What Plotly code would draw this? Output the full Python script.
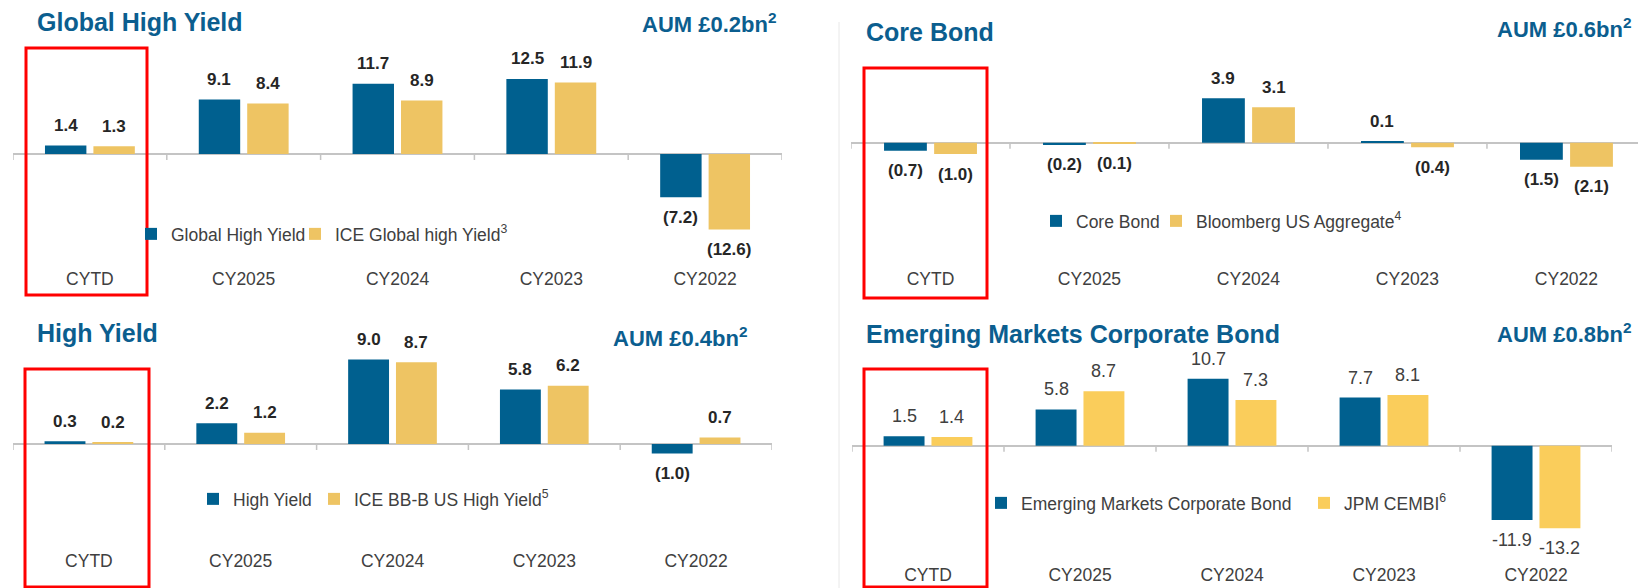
import plotly.graph_objects as go

categories = ["CYTD", "CY2025", "CY2024", "CY2023", "CY2022"]

ghy_fund = [1.4, 9.1, 11.7, 12.5, -7.2]
ghy_index = [1.3, 8.4, 8.9, 11.9, -12.6]
core_fund = [-0.7, -0.2, 3.9, 0.1, -1.5]
core_index = [-1.0, -0.1, 3.1, -0.4, -2.1]
hy_fund = [0.3, 2.2, 9.0, 5.8, -1.0]
hy_index = [0.2, 1.2, 8.7, 6.2, 0.7]
em_fund = [1.5, 5.8, 10.7, 7.7, -11.9]
em_index = [1.4, 8.7, 7.3, 8.1, -13.2]

titles = ["Global High Yield", "Core Bond", "High Yield", "Emerging Markets Corporate Bond"]
aum = ["£0.2bn", "£0.6bn", "£0.4bn", "£0.8bn"]
fund_names = ["Global High Yield", "Core Bond", "High Yield", "Emerging Markets Corporate Bond"]
index_names = ["ICE Global high Yield", "Bloomberg US Aggregate", "ICE BB-B US High Yield", "JPM CEMBI"]
index_notes = ["3", "4", "5", "6"]

series = [(ghy_fund, ghy_index), (core_fund, core_index), (hy_fund, hy_index), (em_fund, em_index)]

W, H = 1638, 588
FONT = "Liberation Sans, Arial, sans-serif"
BLUE = "#00608F"
GOLD = "#EEC463"
YELLOW = "#FACD5B"
TITLE = "#0B5E8F"
AXIS = "#C4C4C4"
BARGAP = 0.37


def px(x):
    return x / W


def py(y):
    return 1 - y / H


# pixel layout of the four panels
geo = [
    dict(x=(13, 782), xr=4.5, zero=154, k=6.0, top=40, bot=266, tx=35, ty=22, ax=778, ay=23,
         lx=131, ly=234, ew=119, box=(26, 48, 147, 295), gold=GOLD, neg="paren"),
    dict(x=(851, 1638), xr=4.45, zero=142.7, k=11.4, top=40, bot=266, tx=864, ty=32, ax=1633, ay=28,
         lx=1036, ly=221, ew=75, box=(864, 68, 987, 298), gold=GOLD, neg="paren"),
    dict(x=(13, 772), xr=4.5, zero=444, k=9.4, top=320, bot=548, tx=35, ty=333, ax=749, ay=337,
         lx=193, ly=499, ew=76, box=(25, 369, 149, 587), gold=GOLD, neg="paren"),
    dict(x=(852, 1612), xr=4.5, zero=445.7, k=6.25, top=320, bot=562, tx=864, ty=334, ax=1633, ay=333,
         lx=981, ly=503, ew=278, box=(864, 369, 987, 587), gold=YELLOW, neg="minus"),
]

fig = go.Figure()
annotations = []
shapes = []
layout = {}

for i, (g, (fund, index)) in enumerate(zip(geo, series), start=1):
    sfx = "" if i == 1 else str(i)
    xid, yid = "x" + sfx, "y" + sfx
    leg = "legend" + sfx

    fig.add_trace(go.Bar(x=categories, y=fund, name=fund_names[i - 1], marker_color=BLUE,
                         xaxis=xid, yaxis=yid, legend=leg, legendwidth=g["ew"]))
    fig.add_trace(go.Bar(x=categories, y=index,
                         name=f"{index_names[i - 1]}<sup>{index_notes[i - 1]}</sup>",
                         marker_color=g["gold"], xaxis=xid, yaxis=yid, legend=leg))

    layout["xaxis" + sfx] = dict(
        domain=[px(g["x"][0]), px(g["x"][1])], type="category", range=[-0.5, g["xr"]], anchor=yid,
        showline=False, ticks="", showgrid=False, zeroline=False, fixedrange=True,
        tickfont=dict(family=FONT, size=17.5, color="#404040"),
    )
    layout["yaxis" + sfx] = dict(
        domain=[py(g["bot"]), py(g["top"])], anchor=xid,
        range=[-(g["bot"] - g["zero"]) / g["k"], (g["zero"] - g["top"]) / g["k"]],
        showticklabels=False, showgrid=False, showline=False, ticks="",
        zeroline=True, zerolinecolor=AXIS, zerolinewidth=2, fixedrange=True,
    )
    layout[leg] = dict(
        x=px(g["lx"]), y=py(g["ly"]), xanchor="left", yanchor="middle", orientation="h",
        bgcolor="rgba(0,0,0,0)", traceorder="normal",
        font=dict(family=FONT, size=17.5, color="#404040"),
    )

    # small ticks on the zero line at category boundaries
    for j in range(len(categories) + 1):
        b = j - 0.5
        if b <= g["xr"]:
            shapes.append(dict(type="line", xref=xid, yref=yid, x0=b, x1=b,
                               ysizemode="pixel", yanchor=0, y0=0, y1=-6,
                               line=dict(color=AXIS, width=1.5)))

    # value labels
    cw = (g["x"][1] - g["x"][0]) / (g["xr"] + 0.5)
    shift = (1 - BARGAP) * cw / 4
    if g["neg"] == "paren":
        lfont = dict(family=FONT, size=17, color="#262626", weight="bold")
    else:
        lfont = dict(family=FONT, size=18, color="#404040")
    for vals, xs in ((fund, -shift), (index, shift)):
        for c, v in zip(categories, vals):
            if g["neg"] == "paren":
                txt = f"({abs(v):.1f})" if v < 0 else f"{v:.1f}"
            else:
                txt = f"{v:.1f}"
            annotations.append(dict(
                xref=xid, yref=yid, x=c, y=v, text=txt, showarrow=False,
                xshift=xs, yshift=20 if v >= 0 else -20, font=lfont,
            ))

    annotations.append(dict(
        xref="paper", yref="paper", x=px(g["tx"]), y=py(g["ty"]), xanchor="left", yanchor="middle",
        text=titles[i - 1], showarrow=False,
        font=dict(family=FONT, size=25, color=TITLE, weight="bold"),
    ))
    annotations.append(dict(
        xref="paper", yref="paper", x=px(g["ax"]), y=py(g["ay"]), xanchor="right", yanchor="middle",
        text=f"AUM {aum[i - 1]}<sup>2</sup>", showarrow=False,
        font=dict(family=FONT, size=22, color=TITLE, weight="bold"),
    ))

    b = g["box"]
    shapes.append(dict(type="rect", xref="paper", yref="paper",
                       x0=px(b[0]), x1=px(b[2]), y0=py(b[3]), y1=py(b[1]),
                       line=dict(color="#FF0000", width=3)))

# divider between left and right columns
shapes.append(dict(type="line", xref="paper", yref="paper", x0=px(839), x1=px(839),
                   y0=py(588), y1=py(22), line=dict(color="#E8E8E8", width=1)))

fig.update_layout(
    width=W, height=H, margin=dict(l=0, r=0, t=0, b=0),
    paper_bgcolor="white", plot_bgcolor="white",
    barmode="group", bargap=BARGAP, bargroupgap=0.145,
    annotations=annotations, shapes=shapes,
    font=dict(family=FONT),
    **layout,
)
fig.update_traces(marker_line_width=0)

fig.write_html("out.html", config={"displayModeBar": False},
               post_script="document.body.style.margin='0';")
